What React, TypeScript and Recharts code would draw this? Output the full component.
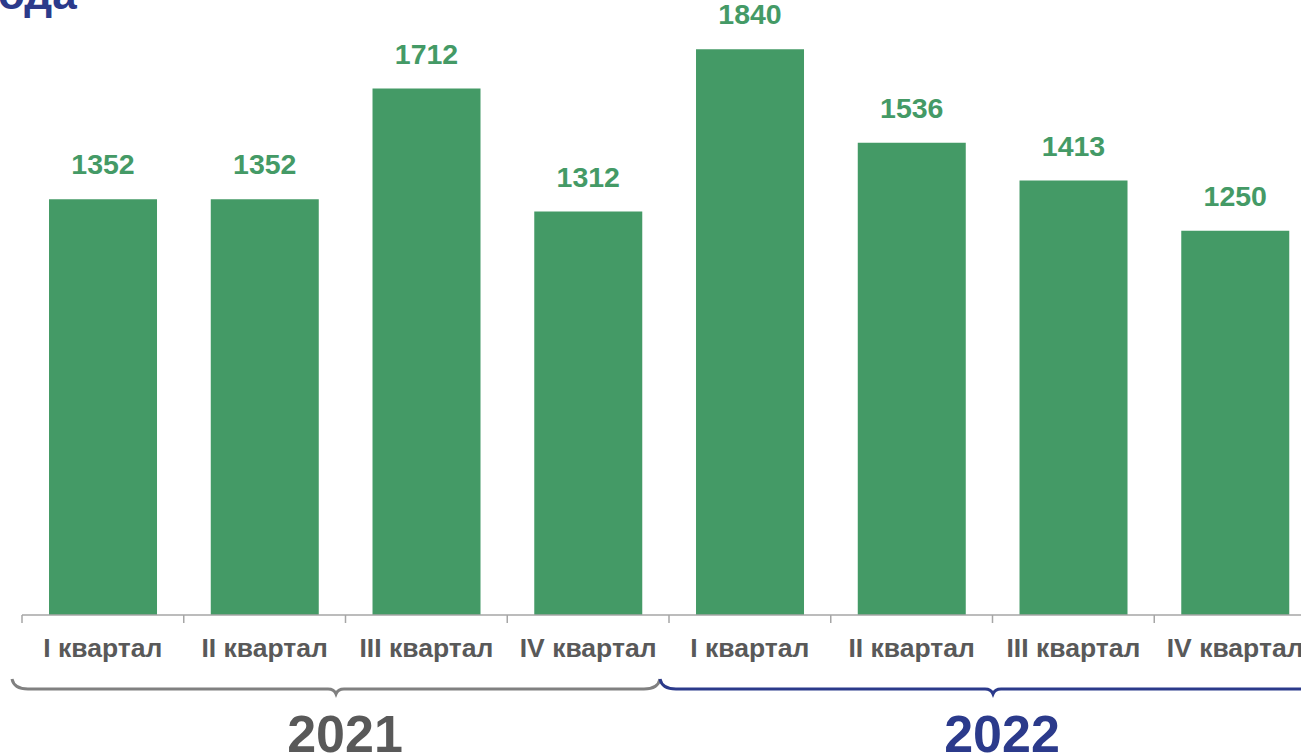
import { BarChart, Bar, XAxis, YAxis, LabelList } from 'recharts';

const quarters = ['I квартал', 'II квартал', 'III квартал', 'IV квартал', 'I квартал', 'II квартал', 'III квартал', 'IV квартал'];
const yearOf = ['2021', '2021', '2021', '2021', '2022', '2022', '2022', '2022'];
const values = [1352, 1352, 1712, 1312, 1840, 1536, 1413, 1250];
const yearLabels = ['2021', '2022'];

const GREEN = '#449A66';
const GRAY_TEXT = '#595959';
const NAVY = '#2B3A8B';
const yearColors = [GRAY_TEXT, NAVY];
const braceColors = ['#808080', NAVY];
// how far each brace sticks out past its first / last band
const bracePads = [[-10, -9], [-9, 10]];

const FONT = '"Liberation Sans", Arial, sans-serif';

const chartData = quarters.map((q, i) => ({
  key: `${yearOf[i]} ${q}`,
  quarter: q,
  value: values[i],
}));

function bracePath(x1: number, x2: number, yb: number) {
  const mid = (x1 + x2) / 2;
  return [
    `M ${x1} ${yb - 10}`,
    `Q ${x1 + 2} ${yb} ${x1 + 16} ${yb}`,
    `L ${mid - 8} ${yb}`,
    `Q ${mid - 2} ${yb} ${mid} ${yb + 5}`,
    `Q ${mid + 2} ${yb} ${mid + 8} ${yb}`,
    `L ${x2 - 16} ${yb}`,
    `Q ${x2 - 2} ${yb} ${x2} ${yb - 10}`,
  ].join(' ');
}

const QuarterTick = (props: any) => {
  const { x, y, payload, index } = props;
  const half = payload?.offset ?? 1293.3 / 16;
  const left = x - half;
  const yearIdx = Math.floor(index / 4);
  let brace = null;
  if (index % 4 === 0) {
    const [p1, p2] = bracePads[yearIdx];
    const x1 = left + p1;
    const x2 = left + half * 8 + p2;
    brace = (
      <g>
        <path d={bracePath(x1, x2, y + 74)} fill="none" stroke={braceColors[yearIdx]} strokeWidth={3} />
        <text
          x={(x1 + x2) / 2 + 9}
          y={y + 137}
          textAnchor="middle"
          fontFamily={FONT}
          fontWeight="bold"
          fontSize={52}
          fill={yearColors[yearIdx]}
        >
          {yearLabels[yearIdx]}
        </text>
      </g>
    );
  }
  return (
    <g>
      <line x1={left} y1={y} x2={left} y2={y + 8} stroke="#a6a6a6" strokeWidth={1.5} />
      <text x={x} y={y + 42} textAnchor="middle" fontFamily={FONT} fontWeight="bold" fontSize={26.5} fill={GRAY_TEXT}>
        {quarters[index]}
      </text>
      {brace}
    </g>
  );
};

const ValueLabel = (props: any) => {
  const { x, y, width, value } = props;
  return (
    <text x={x + width / 2} y={y - 25} textAnchor="middle" fontFamily={FONT} fontWeight="bold" fontSize={28.5} fill={GREEN}>
      {value}
    </text>
  );
};

export default function App() {
  return (
    <div style={{ position: 'fixed', top: 0, left: 0, width: 1301, height: 756, overflow: 'hidden', background: '#fff' }}>
      <svg width={300} height={40} style={{ position: 'absolute', top: 0, left: 0 }}>
        <text x={-2} y={9} fontFamily={FONT} fontWeight="bold" fontSize={44} fill={NAVY}>
          ода
        </text>
      </svg>
      <BarChart
        width={1316}
        height={756}
        data={chartData}
        margin={{ top: 0, right: 0, bottom: 0, left: 22 }}
        barCategoryGap="16.7%"
      >
        <XAxis
          dataKey="key"
          height={141}
          axisLine={{ stroke: '#a6a6a6', strokeWidth: 1.5 }}
          tickLine={false}
          tickSize={0}
          tickMargin={0}
          interval={0}
          tick={<QuarterTick />}
        />
        <YAxis hide domain={[0, 2000]} />
        <Bar dataKey="value" fill={GREEN} isAnimationActive={false}>
          <LabelList dataKey="value" content={<ValueLabel />} />
        </Bar>
      </BarChart>
    </div>
  );
}
